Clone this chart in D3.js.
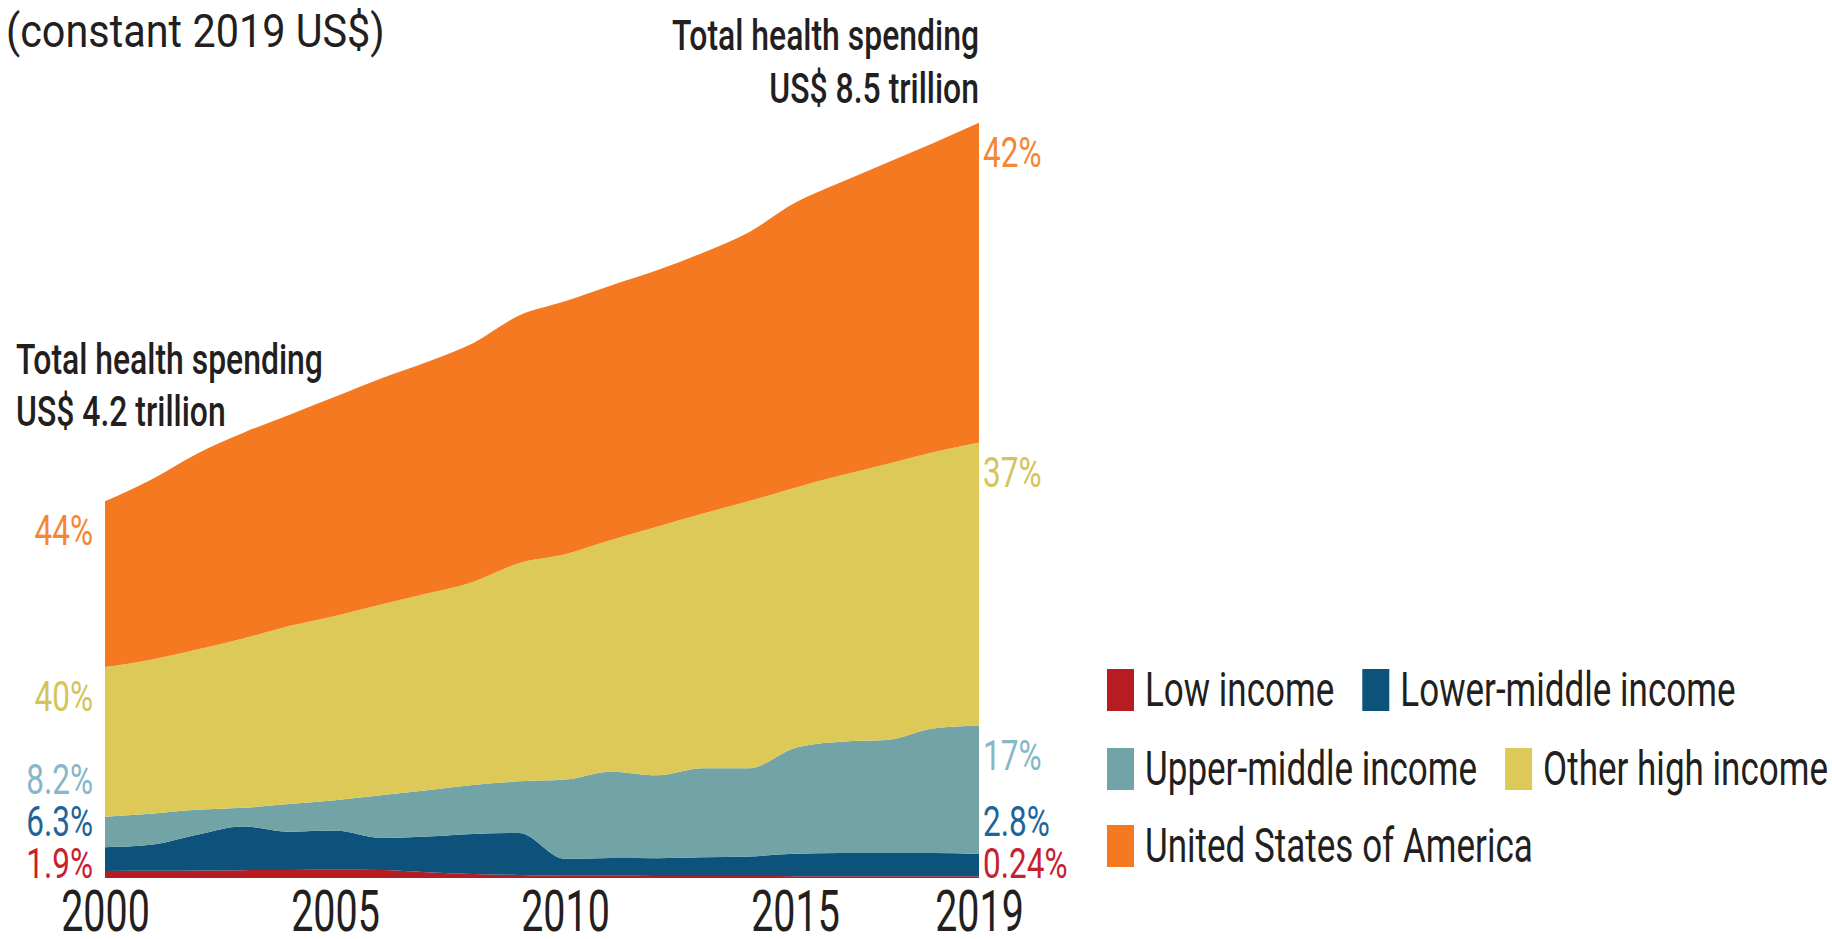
<!DOCTYPE html>
<html lang="en">
<head>
  <meta charset="utf-8">
  <script src="https://d3js.org/d3.v7.min.js"></script>
  <style>
    body { margin: 0; background: #fff; }
    text { font-family: Roboto, "DejaVu Sans", sans-serif; }
  </style>
</head>
<body>
  <div id="chart"></div>
  <script>
  const width = 1832
  const height = 939

  // health spending, trillions of constant 2019 US$
  const years = [2000, 2001, 2002, 2003, 2004, 2005, 2006, 2007, 2008, 2009,
                 2010, 2011, 2012, 2013, 2014, 2015, 2016, 2017, 2018, 2019]
  const lowIncome   = [0.080, 0.082, 0.085, 0.088, 0.090, 0.093, 0.090, 0.065, 0.045, 0.035,
                       0.025, 0.024, 0.023, 0.022, 0.022, 0.021, 0.021, 0.020, 0.020, 0.020]
  const lowerMiddle = [0.265, 0.29, 0.40, 0.49, 0.43, 0.44, 0.36, 0.40, 0.45, 0.47,
                       0.19, 0.20, 0.20, 0.21, 0.22, 0.25, 0.26, 0.26, 0.26, 0.25]
  const upperMiddle = [0.344, 0.35, 0.28, 0.21, 0.31, 0.34, 0.48, 0.52, 0.55, 0.58,
                       0.89, 0.97, 0.93, 1.00, 0.99, 1.19, 1.25, 1.27, 1.40, 1.44]
  const otherHigh   = [1.68, 1.73, 1.80, 1.90, 2.00, 2.07, 2.14, 2.21, 2.28, 2.45,
                       2.53, 2.60, 2.79, 2.86, 3.00, 2.92, 2.99, 3.10, 3.10, 3.18]
  const usa         = [1.86, 2.02, 2.20, 2.31, 2.37, 2.46, 2.54, 2.60, 2.68, 2.78,
                       2.84, 2.86, 2.88, 2.93, 3.02, 3.20, 3.29, 3.38, 3.47, 3.59]

  const keys = ["low", "lowerMiddle", "upperMiddle", "otherHigh", "usa"]
  const names = ["Low income", "Lower-middle income", "Upper-middle income", "Other high income", "United States of America"]
  const shares2000 = ["1.9%", "6.3%", "8.2%", "40%", "44%"]
  const shares2019 = ["0.24%", "2.8%", "17%", "37%", "42%"]
  const tickYears = [2000, 2005, 2010, 2015, 2019]
  const totalStart = ["Total health spending", "US$ 4.2 trillion"]
  const totalEnd = ["Total health spending", "US$ 8.5 trillion"]
  const subtitle = "(constant 2019 US$)"

  const fillColors = ["#b81c23", "#0c527b", "#72a3a6", "#dcc957", "#f47920"]
  const labelColors = ["#c8202f", "#1e6399", "#87b6c7", "#d4c45a", "#f58634"]
  const ink = "#231f20"

  const rows = years.map((yr, i) => ({
    year: yr, low: lowIncome[i], lowerMiddle: lowerMiddle[i], upperMiddle: upperMiddle[i],
    otherHigh: otherHigh[i], usa: usa[i]
  }))

  const x = d3.scaleLinear().domain([2000, 2019]).range([105, 979])
  const y = d3.scaleLinear().domain([0, 8.5]).range([878, 121])

  const svg = d3.select("#chart").append("svg")
      .attr("width", width)
      .attr("height", height)

  const stacked = d3.stack().keys(keys)(rows)

  const area = d3.area()
      .x(d => x(d.data.year))
      .y0(d => y(d[0]))
      .y1(d => y(d[1]))
      .curve(d3.curveMonotoneX)

  svg.append("g").selectAll("path")
    .data(stacked)
    .enter().append("path")
      .attr("d", area)
      .attr("fill", (d, i) => fillColors[i])

  // condensed text: normal font squeezed horizontally
  function squeezed(px, py, str, size, sx, anchor, color, weight) {
    const g = svg.append("g").attr("transform", `translate(${px},${py}) scale(${sx},1)`)
    return g.append("text")
      .attr("text-anchor", anchor)
      .attr("font-size", size)
      .attr("font-weight", weight || 400)
      .attr("fill", color)
      .text(str)
  }

  ////////////////////// axis //////////////////////
  const axis = svg.append("g")
      .attr("transform", `translate(0,${y(0)})`)
      .call(d3.axisBottom(x).tickValues(tickYears).tickSize(0).tickFormat(d3.format("d")))
  axis.select(".domain").remove()
  axis.selectAll("text")
      .attr("y", 12)
      .attr("font-size", 58)
      .attr("fill", ink)
      .attr("transform", "scale(0.68,1)")
      .style("font-family", "Roboto, sans-serif")

  ////////////////////// share labels //////////////////////
  function shareLabels(idx, shares, px, anchor) {
    let prev = y(0)
    const gap = 42
    stacked.forEach((s, i) => {
      const top = y(s[idx][1])
      let base = top + 44
      if (i === 0) base = Math.min(base, prev)
      else base = Math.min(base, prev - gap)
      prev = base
      squeezed(px, base, shares[i], 42, 0.75, anchor, labelColors[i], 400)
    })
  }
  shareLabels(0, shares2000, 93, "end")
  shareLabels(years.length - 1, shares2019, 983, "start")

  ////////////////////// totals //////////////////////
  squeezed(16, 374, totalStart[0], 42, 0.76, "start", ink, 500)
  squeezed(16, 426, totalStart[1], 42, 0.76, "start", ink, 500)
  squeezed(979, 50, totalEnd[0], 42, 0.76, "end", ink, 500)
  squeezed(979, 103, totalEnd[1], 42, 0.76, "end", ink, 500)
  squeezed(6, 47, subtitle, 46, 0.9, "start", ink, 400)

  ////////////////////// legend //////////////////////
  const legendRows = [[0, 1], [2, 3], [4]]
  const legendX = 1107
  const rowTops = [669, 748, 825]
  const sxLegend = 0.715
  legendRows.forEach((row, r) => {
    let cx = legendX
    row.forEach(i => {
      svg.append("rect")
        .attr("x", cx).attr("y", rowTops[r])
        .attr("width", 27).attr("height", 42)
        .attr("fill", fillColors[i])
      const t = squeezed(cx + 38, rowTops[r] + 37, names[i], 49, sxLegend, "start", ink, 400)
      cx = cx + 38 + t.node().getComputedTextLength() * sxLegend + 28
    })
  })
  </script>
</body>
</html>
